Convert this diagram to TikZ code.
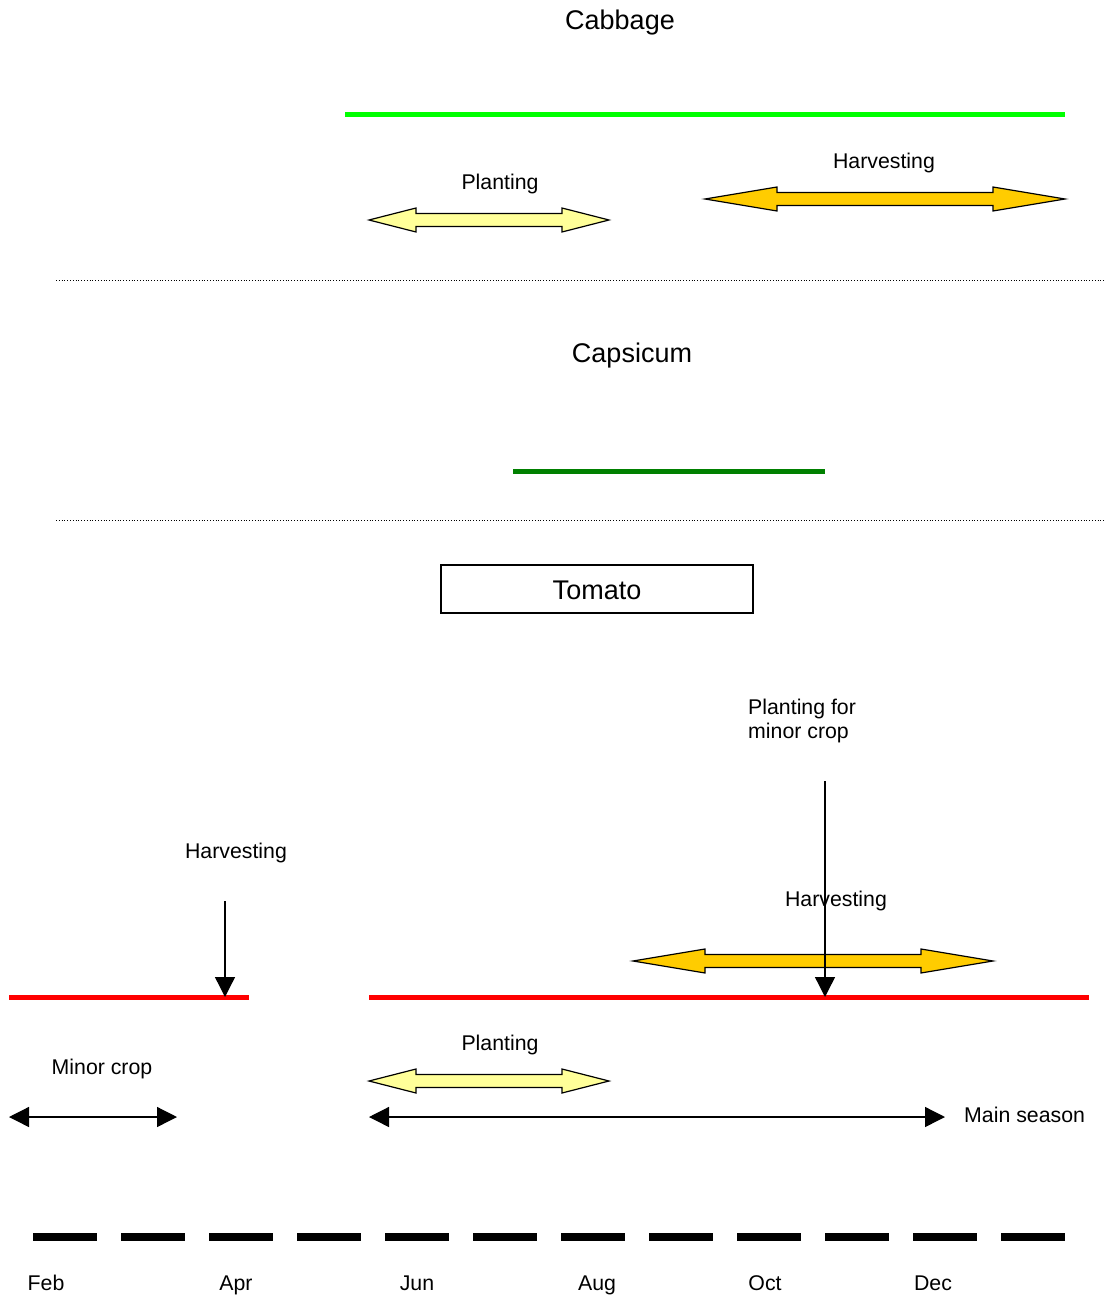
\documentclass[tikz,border=0pt]{standalone}
\usepackage{fontspec}
\setmainfont{Liberation Sans}
\usetikzlibrary{arrows.meta}
\definecolor{brightgreen}{RGB}{0,255,0}
\definecolor{darkgreen}{RGB}{0,128,0}
\definecolor{lightyellow}{RGB}{255,255,153}
\definecolor{gold}{RGB}{255,204,0}
\definecolor{redline}{RGB}{255,0,0}
\newcommand\blockarrow[5]{%
  \filldraw[fill=#5, draw=black, line width=1.2pt, line join=miter]
   (#1,#3) -- ({#1+#4},{#3-12}) -- ({#1+#4},{#3-6.5}) -- ({#2-#4},{#3-6.5}) -- ({#2-#4},{#3-12})
   -- (#2,#3) -- ({#2-#4},{#3+12}) -- ({#2-#4},{#3+6.5}) -- ({#1+#4},{#3+6.5}) -- ({#1+#4},{#3+12}) -- cycle;}
\tikzset{
  title/.style={font=\fontsize{27}{32}\selectfont, inner sep=0pt, anchor=base},
  label/.style={font=\fontsize{21.3}{24}\selectfont, inner sep=0pt, anchor=base},
  period/.style={line width=5pt},
  separator/.style={dotted, line width=0.8pt},
  blackarrow/.style={line width=1.3pt, -{Triangle[length=20pt,width=20pt]}},
  blackdouble/.style={line width=1.3pt, {Triangle[length=20pt,width=20pt]}-{Triangle[length=20pt,width=20pt]}},
}
\begin{document}
\begin{tikzpicture}[x=1pt,y=-1pt]
\useasboundingbox (0,0) rectangle (1104,1297);
% Cabbage
\node[title] (cabbage) at (620,29.5) {Cabbage};
\coordinate (cg1) at (345,115); \coordinate (cg2) at (1065,115);
\draw[period, brightgreen] (cg1) -- (cg2);
\node[label] (cplant) at (500,189.5) {Planting};
\blockarrow{369}{609}{220}{47}{lightyellow}
\node[label] (charv) at (884,168.5) {Harvesting};
\blockarrow{705}{1065}{199}{72}{gold}
% separators
\coordinate (s1a) at (56,280); \coordinate (s1b) at (1104,280);
\draw[separator] (s1a) -- (s1b);
\coordinate (s2a) at (56,520); \coordinate (s2b) at (1104,520);
\draw[separator] (s2a) -- (s2b);
% Capsicum
\node[title] (capsicum) at (632,362.5) {Capsicum};
\coordinate (dg1) at (513,471); \coordinate (dg2) at (825,471);
\draw[period, darkgreen] (dg1) -- (dg2);
% Tomato
\node[draw, line width=1.2pt, minimum width=312pt, minimum height=48pt, inner sep=0pt, text depth=0pt, font=\fontsize{27}{32}\selectfont] (tomato) at (597,589) {\raisebox{-3pt}{Tomato}};
\node[label, align=left, anchor=north west] (pminor) at (748,699) {Planting for\\minor crop};
\coordinate (va1) at (825,781); \coordinate (va2) at (825,997);
\node[label] (harv1) at (236,858.5) {Harvesting};
\coordinate (vb1) at (225,901); \coordinate (vb2) at (225,997);
\node[label] (harv2) at (836,906.5) {Harvesting};
\blockarrow{633}{993}{961}{72}{gold}
\coordinate (r1a) at (9,997); \coordinate (r1b) at (249,997);
\coordinate (r2a) at (369,997); \coordinate (r2b) at (1089,997);
\draw[period, redline] (r1a) -- (r1b);
\draw[period, redline] (r2a) -- (r2b);
\draw[blackarrow] (va1) -- (va2);
\draw[blackarrow] (vb1) -- (vb2);
\node[label] (minor) at (102,1074.5) {Minor crop};
\coordinate (m1) at (9,1117); \coordinate (m2) at (177,1117);
\draw[blackdouble] (m1) -- (m2);
\node[label] (tplant) at (500,1050.5) {Planting};
\blockarrow{369}{609}{1081}{47}{lightyellow}
\coordinate (ms1) at (369,1117); \coordinate (ms2) at (945,1117);
\draw[blackdouble] (ms1) -- (ms2);
\node[label, anchor=base west] (mainseason) at (964,1122.5) {Main season};
% month axis
\coordinate (ax1) at (33,1237); \coordinate (ax2) at (1065,1237);
\draw[line width=7.5pt, dash pattern=on 64pt off 24pt] (ax1) -- (ax2);
\node[label] (feb) at (46,1290.5) {Feb};
\node[label] (apr) at (236,1290.5) {Apr};
\node[label] (jun) at (417,1290.5) {Jun};
\node[label] (aug) at (597,1290.5) {Aug};
\node[label] (oct) at (765,1290.5) {Oct};
\node[label] (dec) at (933,1290.5) {Dec};
\end{tikzpicture}
\end{document}
